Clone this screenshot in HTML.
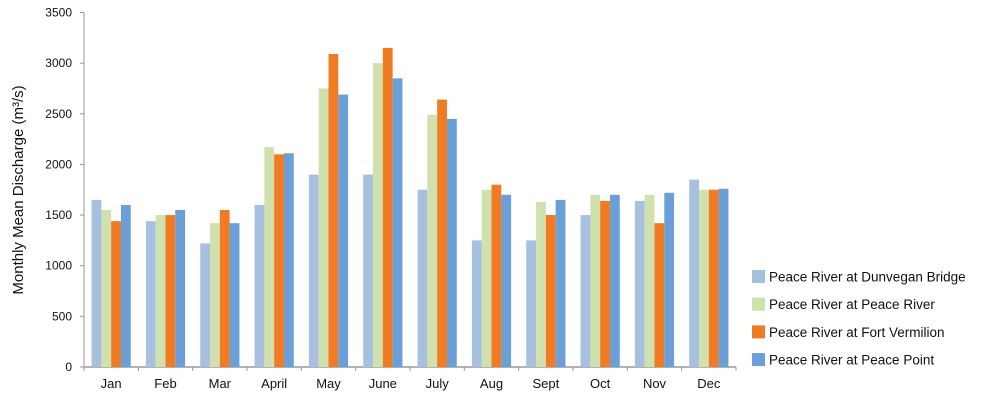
<!DOCTYPE html>
<html><head><meta charset="utf-8"><style>
body{margin:0;background:#fff;font-family:"Liberation Sans",sans-serif}
svg{display:block}
</style></head><body>
<svg id="c" width="1000" height="401"></svg>
<script>
const categories=["Jan","Feb","Mar","April","May","June","July","Aug","Sept","Oct","Nov","Dec"];
const seriesNames=["Peace River at Dunvegan Bridge","Peace River at Peace River","Peace River at Fort Vermilion","Peace River at Peace Point"];
const dunvegan=[1650,1440,1220,1600,1900,1900,1750,1250,1250,1500,1640,1850];
const peaceRiver=[1550,1500,1420,2170,2750,3000,2490,1750,1630,1700,1700,1750];
const fortVermilion=[1440,1500,1550,2100,3090,3150,2640,1800,1500,1640,1420,1750];
const peacePoint=[1600,1550,1420,2110,2690,2850,2450,1700,1650,1700,1720,1760];
const yTicks=[0,500,1000,1500,2000,2500,3000,3500];
const colors=["#a7c0e0","#d0e1ad","#f07b22","#6a9fd7"];
const series=[dunvegan,peaceRiver,fortVermilion,peacePoint];
const NS="http://www.w3.org/2000/svg",svg=document.getElementById("c");
const X0=84,X1=736,Y0=367,Y1=12.5,YMAX=3500;
const bw=(X1-X0)/categories.length;
function y(v){return Y0-(v/YMAX)*(Y0-Y1);}
function gx(i){return X0+i*bw;}
function mk(t,a,txt){const e=document.createElementNS(NS,t);for(const k in a)e.setAttribute(k,a[k]);if(txt!=null)e.textContent=txt;svg.appendChild(e);return e;}
// axes
let e=mk("line",{x1:X0,y1:Y1,x2:X0,y2:Y0,stroke:"#999","stroke-width":1});


e=mk("line",{x1:X0,y1:Y0,x2:X1,y2:Y0,stroke:"#999","stroke-width":1.5});


yTicks.forEach(t=>{
  e=mk("line",{x1:X0-4,y1:y(t),x2:X0,y2:y(t),stroke:"#999"});
  
  
  e=mk("text",{x:X0-12,y:y(t)+4,"text-anchor":"end","font-size":12,fill:"#111"},t);
  
  
});
for(let i=0;i<=categories.length;i++){
  e=mk("line",{x1:gx(i),y1:Y0,x2:gx(i),y2:Y0+4,stroke:"#999"});
  
  
}
const barW=9.8,off=(bw-4*barW)/2;
categories.forEach((c,i)=>{
  series.forEach((s,j)=>{
    e=mk("rect",{x:gx(i)+off+j*barW,y:y(s[i]),width:barW,height:Y0-y(s[i]),fill:colors[j]});
    
    
  });
  e=mk("text",{x:gx(i)+bw/2,y:388,"text-anchor":"middle","font-size":13,fill:"#111"},c);
  
  
});
e=mk("text",{x:0,y:0,transform:"translate(23,190) rotate(-90)","text-anchor":"middle","font-size":15,fill:"#111"},"Monthly Mean Discharge (m³/s)");


seriesNames.forEach((n,j)=>{
  const ly=270+j*27.7;
  e=mk("rect",{x:752,y:ly,width:13,height:13,fill:colors[j]});
  
  
  e=mk("text",{x:769,y:ly+11.5,"font-size":13.5,fill:"#111"},n);
  
  
});
</script>
</body></html>
